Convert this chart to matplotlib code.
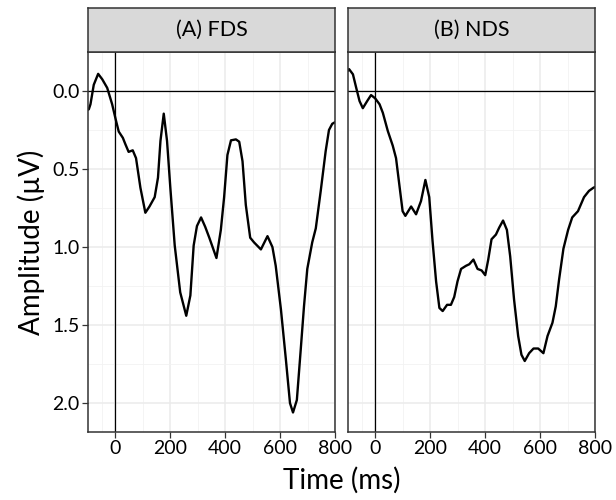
import matplotlib.pyplot as plt
from matplotlib.ticker import FixedLocator

plt.rcParams['font.family'] = ['Lato', 'DejaVu Sans']

# --- Data (time in ms, amplitude in uV) ---
FDS_TIME = [-100, -97, -91, -79, -63, -48, -30, -12, 2, 12, 27, 36, 48, 63, 75, 91, 109, 124,
            143, 155, 164, 176, 188, 200, 216, 236, 258, 273, 285, 297, 312, 327, 342, 368,
            384, 396, 408, 421, 439, 451, 463, 475, 491, 505, 530, 554, 572, 584, 603, 621,
            636, 647, 661, 675, 687, 699, 717, 730, 748, 766, 778, 790, 800]
FDS_AMP = [0.12, 0.117, 0.085, -0.04, -0.11, -0.075, -0.02, 0.085, 0.19, 0.26, 0.30, 0.34, 0.39, 0.38, 0.43, 0.62, 0.78, 0.74,
           0.68, 0.555, 0.32, 0.145, 0.32, 0.62, 0.99, 1.29, 1.44, 1.31, 0.99, 0.865, 0.81, 0.87, 0.94, 1.07,
           0.89, 0.68, 0.41, 0.316, 0.31, 0.325, 0.45, 0.73, 0.94, 0.97, 1.015, 0.93, 1.0, 1.12, 1.40, 1.72,
           2.0, 2.06, 1.98, 1.66, 1.38, 1.14, 0.97, 0.88, 0.64, 0.385, 0.25, 0.21, 0.20]

NDS_TIME = [-100, -96, -82, -70, -58, -46, -30, -16, -1, 15, 27, 45, 63, 75, 87, 99, 109, 130,
            148, 166, 182, 196, 208, 221, 233, 245, 261, 275, 287, 299, 312, 330, 342, 357, 372,
            387, 400, 411, 423, 439, 451, 465, 479, 491, 505, 520, 532, 544, 560, 576, 593, 612,
            627, 645, 657, 669, 685, 702, 717, 738, 760, 778, 794, 800]
NDS_AMP = [-0.13, -0.14, -0.107, -0.02, 0.064, 0.11, 0.064, 0.026, 0.047, 0.085, 0.14, 0.256, 0.35, 0.43, 0.60, 0.77, 0.80, 0.74,
           0.79, 0.705, 0.57, 0.68, 0.96, 1.22, 1.39, 1.41, 1.37, 1.37, 1.32, 1.22, 1.14, 1.12, 1.11, 1.08, 1.14,
           1.15, 1.18, 1.08, 0.95, 0.92, 0.875, 0.83, 0.89, 1.06, 1.335, 1.57, 1.69, 1.73, 1.68, 1.65, 1.65, 1.68,
           1.57, 1.485, 1.38, 1.21, 1.01, 0.89, 0.81, 0.77, 0.68, 0.64, 0.62, 0.615]

PANELS = ["(A) FDS", "(B) NDS"]
SERIES = [(FDS_TIME, FDS_AMP), (NDS_TIME, NDS_AMP)]
X_TICKS = [0, 200, 400, 600, 800]
X_MINOR = [-50, 100, 300, 500, 700]
Y_TICKS = [0.0, 0.5, 1.0, 1.5, 2.0]
Y_MINOR = [0.25, 0.75, 1.25, 1.75]

fig = plt.figure(figsize=(6.16, 5.0), dpi=100)

lefts = [88 / 616, 348 / 616]
width = 247 / 616
bottom = 1 - 432 / 500
height = 380 / 500
strip_h = 44 / 500
edge = '#333333'

for i, (title, (t, a)) in enumerate(zip(PANELS, SERIES)):
    ax = fig.add_axes([lefts[i], bottom, width, height])
    ax.plot(t, a, color='black', lw=1.7, solid_joinstyle='round', solid_capstyle='round')
    ax.axhline(0, color='black', lw=0.9)
    ax.axvline(0, color='black', lw=0.9)
    ax.set_xlim(-100, 800)
    ax.set_ylim(2.185, -0.25)
    ax.set_xticks(X_TICKS)
    ax.set_yticks(Y_TICKS)
    ax.xaxis.set_minor_locator(FixedLocator(X_MINOR))
    ax.yaxis.set_minor_locator(FixedLocator(Y_MINOR))
    ax.grid(True, which='major', color='#ebebeb', lw=1.1)
    ax.grid(True, which='minor', color='#f2f2f2', lw=0.6)
    ax.set_axisbelow(True)
    ax.tick_params(which='minor', length=0)
    ax.tick_params(which='major', length=4, width=0.9, color=edge, labelsize=14, labelcolor='black', pad=2)
    for s in ax.spines.values():
        s.set_color(edge)
        s.set_linewidth(1.1)
    if i == 0:
        ax.set_yticklabels([f"{v:.1f}" for v in Y_TICKS])
        ax.set_ylabel("Amplitude (µV)", fontsize=20, labelpad=5)
    else:
        ax.set_yticklabels([])
        ax.tick_params(axis='y', length=0)

    # facet strip
    sax = fig.add_axes([lefts[i], bottom + height, width, strip_h])
    sax.set_facecolor('#d9d9d9')
    sax.set_xticks([])
    sax.set_yticks([])
    for s in sax.spines.values():
        s.set_color(edge)
        s.set_linewidth(1.1)
    sax.text(0.5, 0.5, title, ha='center', va='center', fontsize=15.5, transform=sax.transAxes)

fig.text((88 + 595) / 2 / 616, 1 - 480 / 500, "Time (ms)", ha='center', va='center', fontsize=20)

fig.savefig("out.png", dpi=100)
